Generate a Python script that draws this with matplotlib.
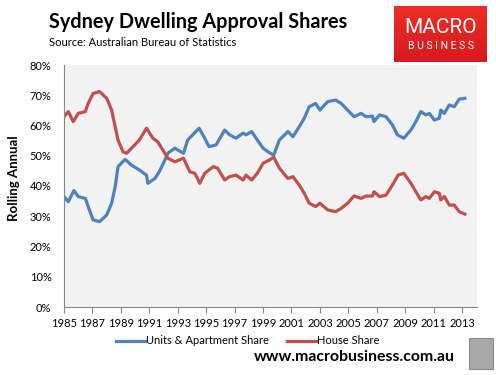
import matplotlib
matplotlib.use("Agg")
import matplotlib.pyplot as plt
from matplotlib.patches import Rectangle
from matplotlib.ticker import FuncFormatter
from matplotlib.colors import LinearSegmentedColormap
import numpy as np

plt.rcParams['font.family'] = ['Lato', 'DejaVu Sans']

units_years = [1985.0, 1985.3, 1985.7, 1986.0, 1986.5, 1986.7, 1987.05, 1987.5, 1988.0, 1988.35,
               1988.6, 1988.8, 1989.3, 1989.75, 1990.3, 1990.8, 1990.9, 1991.4, 1991.7, 1992.1,
               1992.3, 1992.8, 1993.4, 1993.7, 1994.5, 1994.9, 1995.2, 1995.7, 1996.3, 1996.65,
               1997.1, 1997.6, 1997.8, 1998.2, 1998.6, 1999.0, 1999.45, 1999.75, 2000.15, 2000.75,
               2001.1, 2001.55, 2001.9, 2002.25, 2002.7, 2003.0, 2003.55, 2004.1, 2004.5, 2004.95,
               2005.4, 2005.9, 2006.25, 2006.7, 2006.8, 2007.2, 2007.65, 2008.1, 2008.45, 2008.9,
               2009.4, 2009.75, 2010.1, 2010.45, 2010.7, 2011.05, 2011.4, 2011.5, 2011.75, 2012.1,
               2012.45, 2012.8, 2013.2]
units_share = [36.5, 34.8, 38.5, 36.5, 35.9, 33.2, 28.8, 28.2, 30.4, 34.3,
               39.8, 46.4, 48.8, 46.9, 45.3, 43.6, 40.9, 42.5, 44.7, 48.6,
               50.8, 52.5, 50.8, 55.2, 59.1, 55.8, 53.0, 53.6, 58.5, 56.9,
               55.8, 57.5, 56.9, 58.0, 55.2, 52.5, 51.0, 50.2, 55.2, 58.0,
               56.3, 59.6, 62.4, 66.2, 67.3, 65.1, 67.9, 68.4, 67.3, 65.1,
               62.9, 64.0, 62.9, 63.1, 61.3, 63.5, 62.9, 60.2, 56.9, 55.8,
               58.5, 61.3, 64.6, 63.5, 64.0, 61.8, 62.4, 65.1, 64.0, 66.8,
               66.2, 68.7, 69.0]

house_years = [1985.0, 1985.3, 1985.65, 1986.0, 1986.5, 1986.7, 1987.05, 1987.5, 1988.0, 1988.35,
               1988.6, 1988.8, 1989.15, 1989.4, 1989.85, 1990.3, 1990.8, 1991.25, 1991.6, 1991.95,
               1992.3, 1992.8, 1993.4, 1993.85, 1994.2, 1994.55, 1994.9, 1995.5, 1995.8, 1996.3,
               1996.65, 1997.1, 1997.6, 1997.8, 1998.2, 1998.6, 1999.0, 1999.45, 1999.75, 2000.15,
               2000.75, 2001.1, 2001.55, 2001.9, 2002.25, 2002.7, 2003.0, 2003.55, 2004.1, 2004.5,
               2004.95, 2005.4, 2005.9, 2006.25, 2006.7, 2006.8, 2007.2, 2007.65, 2008.1, 2008.5,
               2008.9, 2009.4, 2009.75, 2010.1, 2010.45, 2010.7, 2011.05, 2011.4, 2011.5, 2011.75,
               2012.1, 2012.45, 2012.8, 2013.2]
house_share = [62.9, 64.6, 61.3, 64.0, 64.6, 67.3, 70.6, 71.2, 69.0, 65.1,
               59.6, 55.2, 51.3, 50.8, 53.0, 55.2, 59.1, 55.8, 54.6, 51.9,
               49.2, 48.0, 49.2, 44.7, 44.2, 40.9, 44.2, 46.4, 45.9, 42.0,
               43.1, 43.6, 42.0, 43.6, 42.0, 44.2, 47.5, 48.6, 49.5, 45.9,
               42.5, 43.1, 40.3, 37.6, 34.3, 33.2, 34.3, 32.1, 31.5, 32.6,
               34.3, 36.7, 35.9, 36.7, 36.7, 38.1, 36.5, 37.0, 40.3, 43.6,
               44.2, 40.9, 38.1, 35.4, 36.5, 35.9, 38.1, 37.6, 35.4, 36.5,
               33.7, 33.7, 31.5, 30.7]

x_ticks = list(range(1985, 2014, 2))
y_ticks = list(range(0, 81, 10))

W, H = 496, 375
fig = plt.figure(figsize=(W / 100, H / 100), dpi=100)
fig.patch.set_facecolor('white')
ax = fig.add_axes([64 / W, 1 - 307 / H, (477 - 64) / W, (307 - 65) / H])
ax.set_facecolor('#F2F2F2')

blue = '#4F81BD'
red = '#C0504D'
ax.plot(units_years, units_share, color=blue, lw=2.3, solid_joinstyle='round',
        label='Units & Apartment Share')
ax.plot(house_years, house_share, color=red, lw=2.3, solid_joinstyle='round',
        label='House Share')

ax.set_xlim(1985, 2014.05)
ax.set_ylim(0, 80)
ax.set_xticks(x_ticks)
ax.set_xticklabels([str(t) for t in x_ticks])
ax.set_yticks(y_ticks)
ax.yaxis.set_major_formatter(FuncFormatter(lambda v, p: f"{int(v)}%"))
for s in ['top', 'right']:
    ax.spines[s].set_visible(False)
for s in ['left', 'bottom']:
    ax.spines[s].set_color('#878787')
    ax.spines[s].set_linewidth(0.8)
ax.tick_params(axis='x', direction='out', length=4, colors='#878787', labelsize=8,
               pad=4, labelcolor='black')
ax.tick_params(axis='y', length=0, labelsize=8, pad=9, labelcolor='black')

ax.set_ylabel('Rolling Annual', fontsize=9.5, fontweight='bold')
ax.yaxis.set_label_coords((20 - 64) / 413, (307 - 178) / 242)

fig.text(49 / W, 1 - 22 / H, 'Sydney Dwelling Approval Shares', fontsize=14.3,
         fontweight='bold', ha='left', va='center')
fig.text(49 / W, 1 - 42 / H, 'Source: Australian Bureau of Statistics', fontsize=8,
         ha='left', va='center')

# logo box with vertical gradient
grad = np.linspace(0, 1, 64).reshape(-1, 1)
lax = fig.add_axes([394 / W, 1 - 62 / H, (487 - 394) / W, (62 - 6) / H])
cmap = LinearSegmentedColormap.from_list('logo', ['#EE2E24', '#D71920'])
lax.imshow(grad, aspect='auto', cmap=cmap, extent=[0, 1, 0, 1], origin='upper')
lax.set_axis_off()
lax.text(0.5, 0.62, 'MACRO', fontsize=15, color='white', ha='center', va='center',
         family=['Roboto', 'DejaVu Sans'], transform=lax.transAxes)
lax.text(0.5, 0.28, 'B U S I N E S S', fontsize=7.5, color='white', ha='center',
         va='center', family=['Roboto', 'DejaVu Sans'], transform=lax.transAxes)

leg = fig.legend(loc='center', bbox_to_anchor=(248 / W, 1 - 341 / H), ncol=2,
                 frameon=False, fontsize=8, handlelength=2.6, handletextpad=0.1,
                 columnspacing=1.6)

fig.text(455 / W, 1 - 357 / H, 'www.macrobusiness.com.au', fontsize=11.4,
         fontweight='bold', ha='right', va='center')

# wolf badge placeholder
fig.patches.append(Rectangle((469 / W, 1 - 369 / H), 24 / W, 31 / H,
                             transform=fig.transFigure, facecolor='#A8A8A8',
                             edgecolor='#8A8A8A', lw=0.8, zorder=5))

fig.savefig('out.png', dpi=100)
